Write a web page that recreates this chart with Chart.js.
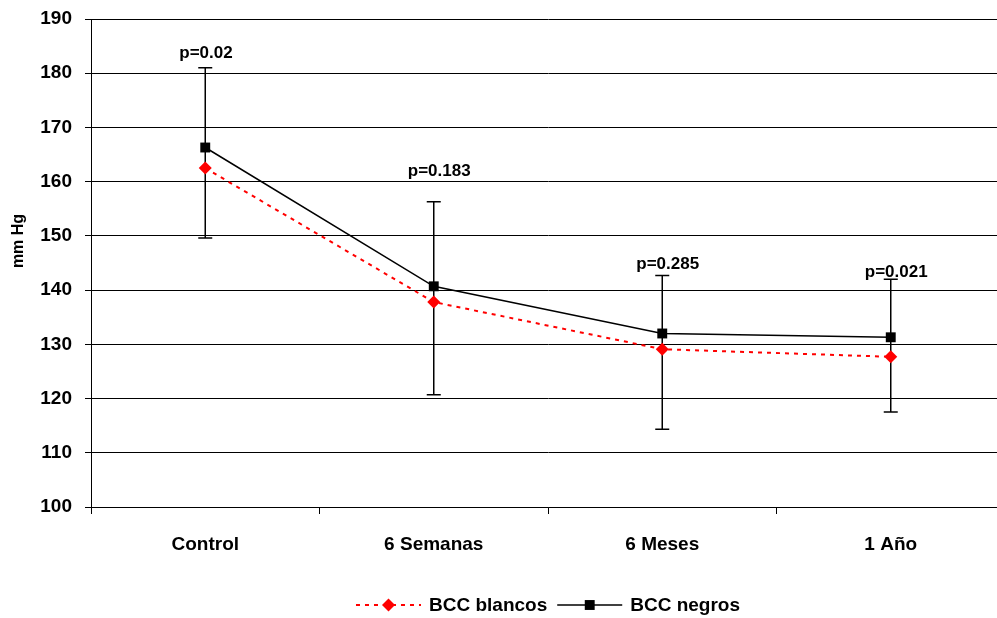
<!DOCTYPE html>
<html>
<head>
<meta charset="utf-8">
<script src="https://cdn.jsdelivr.net/npm/chart.js@4.4.1/dist/chart.umd.min.js"></script>
<style>
  html, body { margin: 0; padding: 0; background: #fff; overflow: hidden; }
  #chart { display: block; }
</style>
</head>
<body>
<canvas id="chart" width="1006" height="618"></canvas>
<script>
// datos
const categories = ['Control', '6 Semanas', '6 Meses', '1 Año'];
const blancos = [162.5, 137.8, 129.1, 127.7];
const negros = [166.3, 140.7, 132.0, 131.3];
const errTop = [181.0, 156.3, 142.7, 142.0];
const errBottom = [149.6, 120.7, 114.35, 117.5];
const pValues = ['p=0.02', 'p=0.183', 'p=0.285', 'p=0.021'];
const pLabelAt = [183.7, 161.9, 144.7, 143.3]; // altura (mm Hg) de cada etiqueta
const yTicks = [100, 110, 120, 130, 140, 150, 160, 170, 180, 190];

const FONT = '"Liberation Sans", Arial, sans-serif';

// barras de error (detras de los marcadores)
const errorBars = {
  id: 'errorBars',
  beforeDatasetsDraw(chart) {
    const { ctx, scales: { x, y } } = chart;
    ctx.save();
    ctx.strokeStyle = '#000';
    ctx.lineWidth = 1.5;
    categories.forEach((c, i) => {
      const px = x.getPixelForValue(i);
      const top = y.getPixelForValue(errTop[i]);
      const bot = y.getPixelForValue(errBottom[i]);
      ctx.beginPath();
      ctx.moveTo(px, top); ctx.lineTo(px, bot);
      ctx.moveTo(px - 7, top); ctx.lineTo(px + 7, top);
      ctx.moveTo(px - 7, bot); ctx.lineTo(px + 7, bot);
      ctx.stroke();
    });
    ctx.restore();
  },
  afterDatasetsDraw(chart) {
    const { ctx, scales: { x, y } } = chart;
    ctx.save();
    ctx.fillStyle = '#000';
    ctx.font = 'bold 17px ' + FONT;
    ctx.textAlign = 'left';
    ctx.textBaseline = 'middle';
    pValues.forEach((t, i) => {
      ctx.fillText(t, x.getPixelForValue(i) - 26, y.getPixelForValue(pLabelAt[i]));
    });
    ctx.restore();
  }
};

function drawMarker(ctx, style, cx, cy, r, color) {
  ctx.fillStyle = color;
  ctx.beginPath();
  if (style === 'rectRot') {
    ctx.moveTo(cx, cy - r); ctx.lineTo(cx + r, cy);
    ctx.lineTo(cx, cy + r); ctx.lineTo(cx - r, cy);
  } else {
    const s = r * Math.SQRT1_2;
    ctx.rect(cx - s, cy - s, 2 * s, 2 * s);
  }
  ctx.closePath();
  ctx.fill();
}

// leyenda y titulo del eje
const customLegend = {
  id: 'customLegend',
  afterDraw(chart) {
    const { ctx, chartArea } = chart;
    ctx.save();
    ctx.font = 'bold 19px ' + FONT;
    ctx.textBaseline = 'middle';
    const items = chart.data.datasets;
    const lineLen = 65;
    let total = 0;
    items.forEach((d, i) => {
      total += lineLen + 8 + ctx.measureText(d.label).width + (i < items.length - 1 ? 10 : 0);
    });
    let cx = (chartArea.left + chartArea.right) / 2 - total / 2;
    const cy = 605;
    items.forEach((d) => {
      ctx.strokeStyle = d.borderColor;
      ctx.lineWidth = d.borderWidth;
      ctx.setLineDash(d.borderDash || []);
      ctx.beginPath();
      ctx.moveTo(cx, cy); ctx.lineTo(cx + lineLen, cy);
      ctx.stroke();
      ctx.setLineDash([]);
      drawMarker(ctx, d.pointStyle, cx + lineLen / 2, cy, d.pointRadius, d.borderColor);
      cx += lineLen + 8;
      ctx.fillStyle = '#000';
      ctx.fillText(d.label, cx, cy + 1);
      cx += ctx.measureText(d.label).width + 10;
    });

    // "mm Hg"
    ctx.translate(19, 241);
    ctx.rotate(-Math.PI / 2);
    ctx.font = 'bold 16px ' + FONT;
    ctx.textAlign = 'center';
    ctx.fillText('mm Hg', 0, 0);
    ctx.restore();
  }
};

new Chart(document.getElementById('chart'), {
  type: 'line',
  data: {
    labels: categories,
    datasets: [
      {
        label: 'BCC blancos',
        data: blancos,
        borderColor: '#ff0000',
        backgroundColor: '#ff0000',
        borderWidth: 2,
        borderDash: [4, 5],
        pointStyle: 'rectRot',
        pointRadius: 6.5,
        pointBorderWidth: 0,
        tension: 0,
      },
      {
        label: 'BCC negros',
        data: negros,
        borderColor: '#000000',
        backgroundColor: '#000000',
        borderWidth: 1.5,
        pointStyle: 'rect',
        pointRadius: 7,
        pointBorderWidth: 0,
        tension: 0,
      },
    ],
  },
  options: {
    responsive: false,
    animation: false,
    layout: { autoPadding: false, padding: { top: 19, right: 1, bottom: 51, left: 0 } },
    plugins: {
      legend: { display: false },
      tooltip: { enabled: false },
    },
    scales: {
      x: {
        offset: true,
        grid: { offset: true, drawOnChartArea: false, color: '#000', tickLength: 7 },
        border: { color: '#000', width: 1 },
        ticks: { color: '#000', font: { family: FONT, size: 19, weight: 'bold' }, padding: 19 },
        afterFit: (s) => { s.height = 60; s.paddingLeft = 0; s.paddingRight = 0; },
      },
      y: {
        min: 100,
        max: 190,
        afterBuildTicks: (s) => { s.ticks = yTicks.map((v) => ({ value: v })); },
        grid: { color: '#000', tickLength: 6 },
        border: { color: '#000', width: 1 },
        ticks: { color: '#000', font: { family: FONT, size: 19, weight: 'bold' }, padding: 13 },
        afterFit: (s) => { s.width = 91; s.paddingTop = 0; s.paddingBottom = 0; },
      },
    },
  },
  plugins: [errorBars, customLegend],
});
</script>
</body>
</html>
